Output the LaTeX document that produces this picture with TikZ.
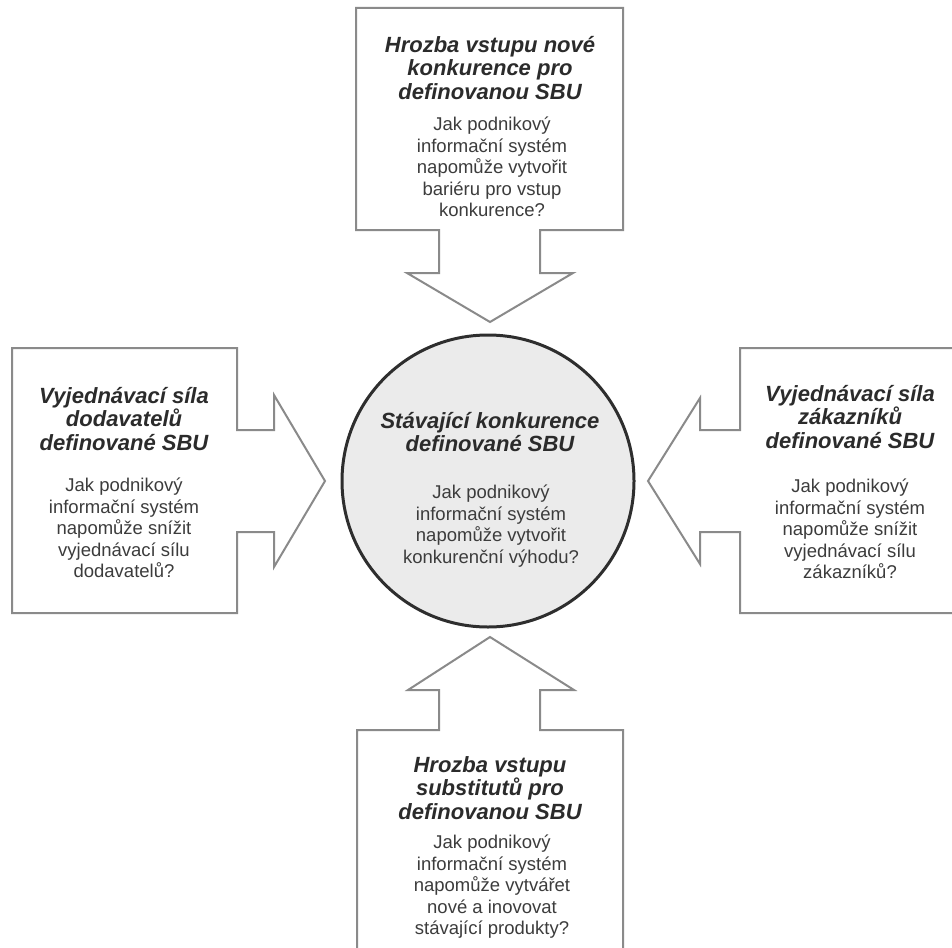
\documentclass[tikz,border=0pt]{standalone}
\usepackage{fontspec}
\setmainfont{Liberation Sans}
\definecolor{outl}{HTML}{8A8A8A}
\definecolor{circfill}{HTML}{EBEBEB}
\definecolor{circline}{HTML}{2E2E2E}
\definecolor{titlec}{HTML}{2B2B2B}
\definecolor{bodyc}{HTML}{3C3C3C}
\begin{document}
\begin{tikzpicture}[x=1pt,y=-1pt,
  shapeline/.style={draw=outl, line width=2pt, fill=white, line join=miter},
  titletext/.style={inner sep=0pt, align=center, text=titlec, font=\fontsize{22}{23.5}\selectfont\bfseries\itshape},
  bodytext/.style={inner sep=0pt, align=center, text=bodyc, font=\fontsize{18.5}{21.5}\selectfont}]
\useasboundingbox (0,0) rectangle (952,947);
\clip (0,0) rectangle (952,947);
% top shape
\draw[shapeline] (356,8) -- (623,8) -- (623,230) -- (540,230) -- (540,273) -- (573,273) -- (490,322) -- (407,273) -- (439,273) -- (439,230) -- (356,230) -- cycle;
% left shape
\draw[shapeline] (12,348) -- (237,348) -- (237,430) -- (274,430) -- (274,395) -- (325,481) -- (274,567) -- (274,532) -- (237,532) -- (237,613) -- (12,613) -- cycle;
% right shape
\draw[shapeline] (965,348) -- (740,348) -- (740,430) -- (700,430) -- (700,398) -- (648,481) -- (700,564) -- (700,532) -- (740,532) -- (740,613) -- (965,613) -- cycle;
% bottom shape
\draw[shapeline] (357,965) -- (357,730) -- (439,730) -- (439,690) -- (408,690) -- (490,637) -- (574,690) -- (540,690) -- (540,730) -- (623,730) -- (623,965) -- cycle;
% circle
\node[circle, draw=circline, line width=3pt, fill=circfill, minimum size=292pt, inner sep=0pt] (core) at (488,481) {};
% texts
\node[titletext] (tT) at (490,68) {Hrozba vstupu nové\\konkurence pro\\definovanou SBU};
\node[bodytext] (tB) at (492,167) {Jak podnikový\\informační systém\\napomůže vytvořit\\bariéru pro vstup\\konkurence?};
\node[titletext] (lT) at (124,419) {Vyjednávací síla\\dodavatelů\\definované SBU};
\node[bodytext] (lB) at (124,528) {Jak podnikový\\informační systém\\napomůže snížit\\vyjednávací sílu\\dodavatelů?};
\node[titletext] (rT) at (850,417) {Vyjednávací síla\\zákazníků\\definované SBU};
\node[bodytext] (rB) at (850,529) {Jak podnikový\\informační systém\\napomůže snížit\\vyjednávací sílu\\zákazníků?};
\node[titletext] (cT) at (490,432) {Stávající konkurence\\definované SBU};
\node[bodytext] (cB) at (491,526) {Jak podnikový\\informační systém\\napomůže vytvořit\\konkurenční výhodu?};
\node[titletext] (bT) at (490,788) {Hrozba vstupu\\substitutů pro\\definovanou SBU};
\node[bodytext] (bB) at (492,887) {Jak podnikový\\informační systém\\napomůže vytvářet\\nové a inovovat\\stávající produkty?};
\end{tikzpicture}
\end{document}
